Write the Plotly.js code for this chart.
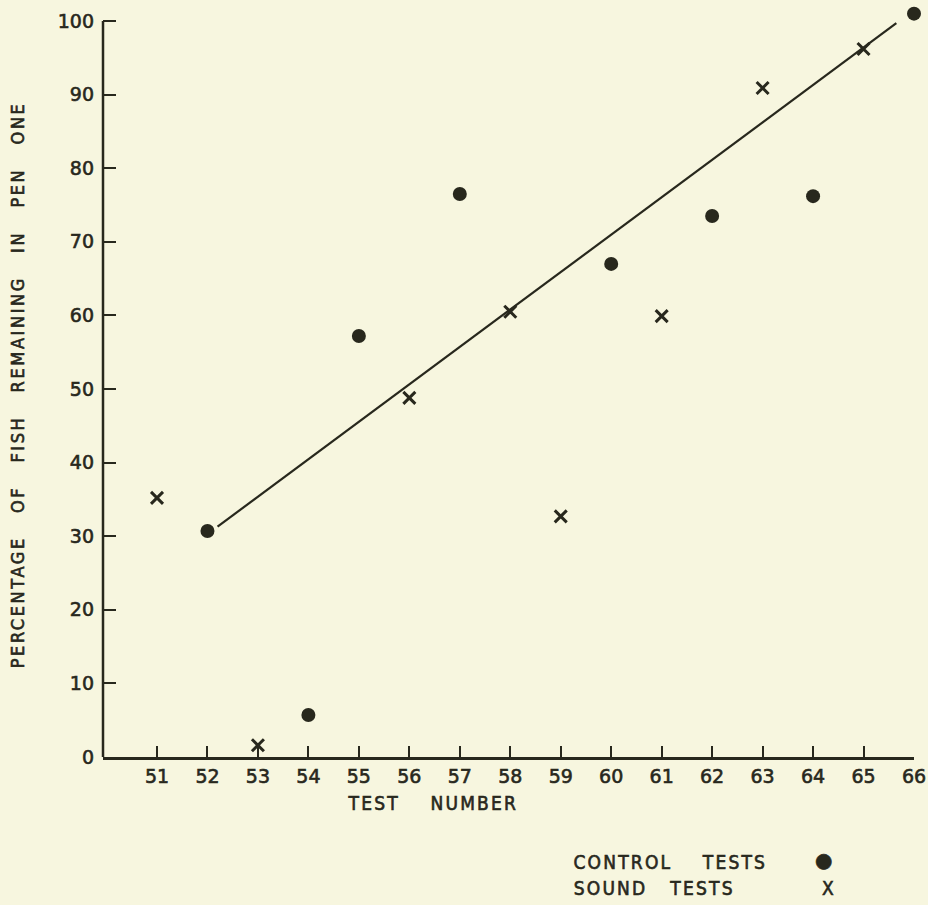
<!DOCTYPE html>
<html>
<head>
<meta charset="utf-8">
<script src="https://cdn.plot.ly/plotly-3.0.1.min.js"></script>
<style>html,body{margin:0;padding:0;background:#f7f6df;}</style>
</head>
<body>
<div id="chart" style="width:928px;height:905px;"></div>
<script>
// Data
const controlX = [52, 54, 55, 57, 60, 62, 64, 66];
const controlY = [30.7, 5.7, 57.2, 76.5, 67.0, 73.5, 76.2, 101.0];
const soundX = [51, 53, 56, 58, 59, 61, 63, 65];
const soundY = [35.2, 1.6, 48.8, 60.5, 32.7, 59.9, 90.9, 96.2];
const fitX = [52.2, 65.65];
const fitY = [31.3, 99.7];
const xTicks = [51,52,53,54,55,56,57,58,59,60,61,62,63,64,65,66];
const yTicks = [0,10,20,30,40,50,60,70,80,90,100];
const nb = '\u00a0';
const xTitle = 'TEST' + nb.repeat(4) + 'NUMBER';
const yTitle = ['PERCENTAGE','OF','FISH','REMAINING','IN','PEN','ONE'].join(nb.repeat(3));
const legendLabels = ['CONTROL' + nb.repeat(4) + 'TESTS', 'SOUND' + nb.repeat(3) + 'TESTS'];
const legendSymbols = ['\u25CF', 'X'];

const ink = '#28281d';
const bg = '#f7f6df';
const font = 'DejaVu Sans, sans-serif';
const cfont = 'DejaVu Sans Condensed, DejaVu Sans, sans-serif';

// layout geometry (pixels)
const W = 928, H = 905;
const L = 103, R = 14, T = 3, B = 148;
const pw = W - L - R, ph = H - T - B;
const px = x => (x - L) / pw;
const py = y => (H - B - y) / ph;
const yTop = 100 * (ph) / (757 - 21); // keep 100 at the same pixel row as reference

const traces = [
  {x: fitX, y: fitY, mode: 'lines', line: {color: ink, width: 2.2}, hoverinfo: 'skip', cliponaxis: false},
  {x: controlX, y: controlY, mode: 'markers', cliponaxis: false,
   marker: {symbol: 'circle', size: 14, color: ink}},
  {x: soundX, y: soundY, mode: 'markers', cliponaxis: false,
   marker: {symbol: 'x-thin-open', size: 12, color: ink, line: {color: ink, width: 3}}}
];

const ann = [
  {text: xTitle, x: px(433), y: py(803), size: 19},
  {text: yTitle, x: px(18), y: py(385), textangle: -90, size: 18},
  {text: legendLabels[0], x: px(670), y: py(862), size: 19},
  {text: legendLabels[1], x: px(654), y: py(888), size: 19},
  {text: legendSymbols[0], x: px(823), y: py(860), size: 20, f: font},
  {text: legendSymbols[1], x: px(828), y: py(888), size: 19}
].map(a => ({
  text: a.text, x: a.x, y: a.y, xref: 'paper', yref: 'paper',
  xanchor: 'center', yanchor: 'middle', showarrow: false,
  textangle: a.textangle || 0,
  font: {family: a.f || cfont, size: a.size, color: ink}
}));

const layout = {
  width: W, height: H,
  margin: {l: L, r: R, t: T, b: B},
  paper_bgcolor: bg, plot_bgcolor: bg,
  showlegend: false,
  font: {family: font, color: ink},
  xaxis: {
    range: [49.93, 66], tickmode: 'array', tickvals: xTicks,
    ticks: 'inside', ticklen: 11, tickwidth: 2, tickcolor: ink,
    showline: true, linecolor: ink, linewidth: 2.5,
    showgrid: false, zeroline: false,
    tickfont: {family: font, size: 19, color: ink},
    ticklabelstandoff: 1
  },
  yaxis: {
    range: [0, yTop], tickmode: 'array', tickvals: yTicks,
    ticks: 'inside', ticklen: 13, tickwidth: 2, tickcolor: ink,
    showline: false,
    showgrid: false, zeroline: false,
    tickfont: {family: font, size: 19, color: ink},
    ticklabelstandoff: 8
  },
  shapes: [{
    type: 'line', xref: 'paper', yref: 'y', x0: 0, x1: 0,
    y0: yTicks[0], y1: yTicks[yTicks.length - 1],
    line: {color: ink, width: 2.5}
  }],
  annotations: ann
};

Plotly.newPlot('chart', traces, layout, {displayModeBar: false, staticPlot: true}).then(gd => {
  const texts = gd.querySelectorAll('.annotation-text');
  texts.forEach((t, i) => {
    if (i < 4) t.setAttribute('letter-spacing', i === 1 ? '2.6px' : '2.2px');
  });
  gd.querySelectorAll('.xtick text, .ytick text, .annotation-text').forEach(t => {
    t.style.stroke = ink;
    t.style.strokeWidth = '0.6px';
  });
});
</script>
</body>
</html>
